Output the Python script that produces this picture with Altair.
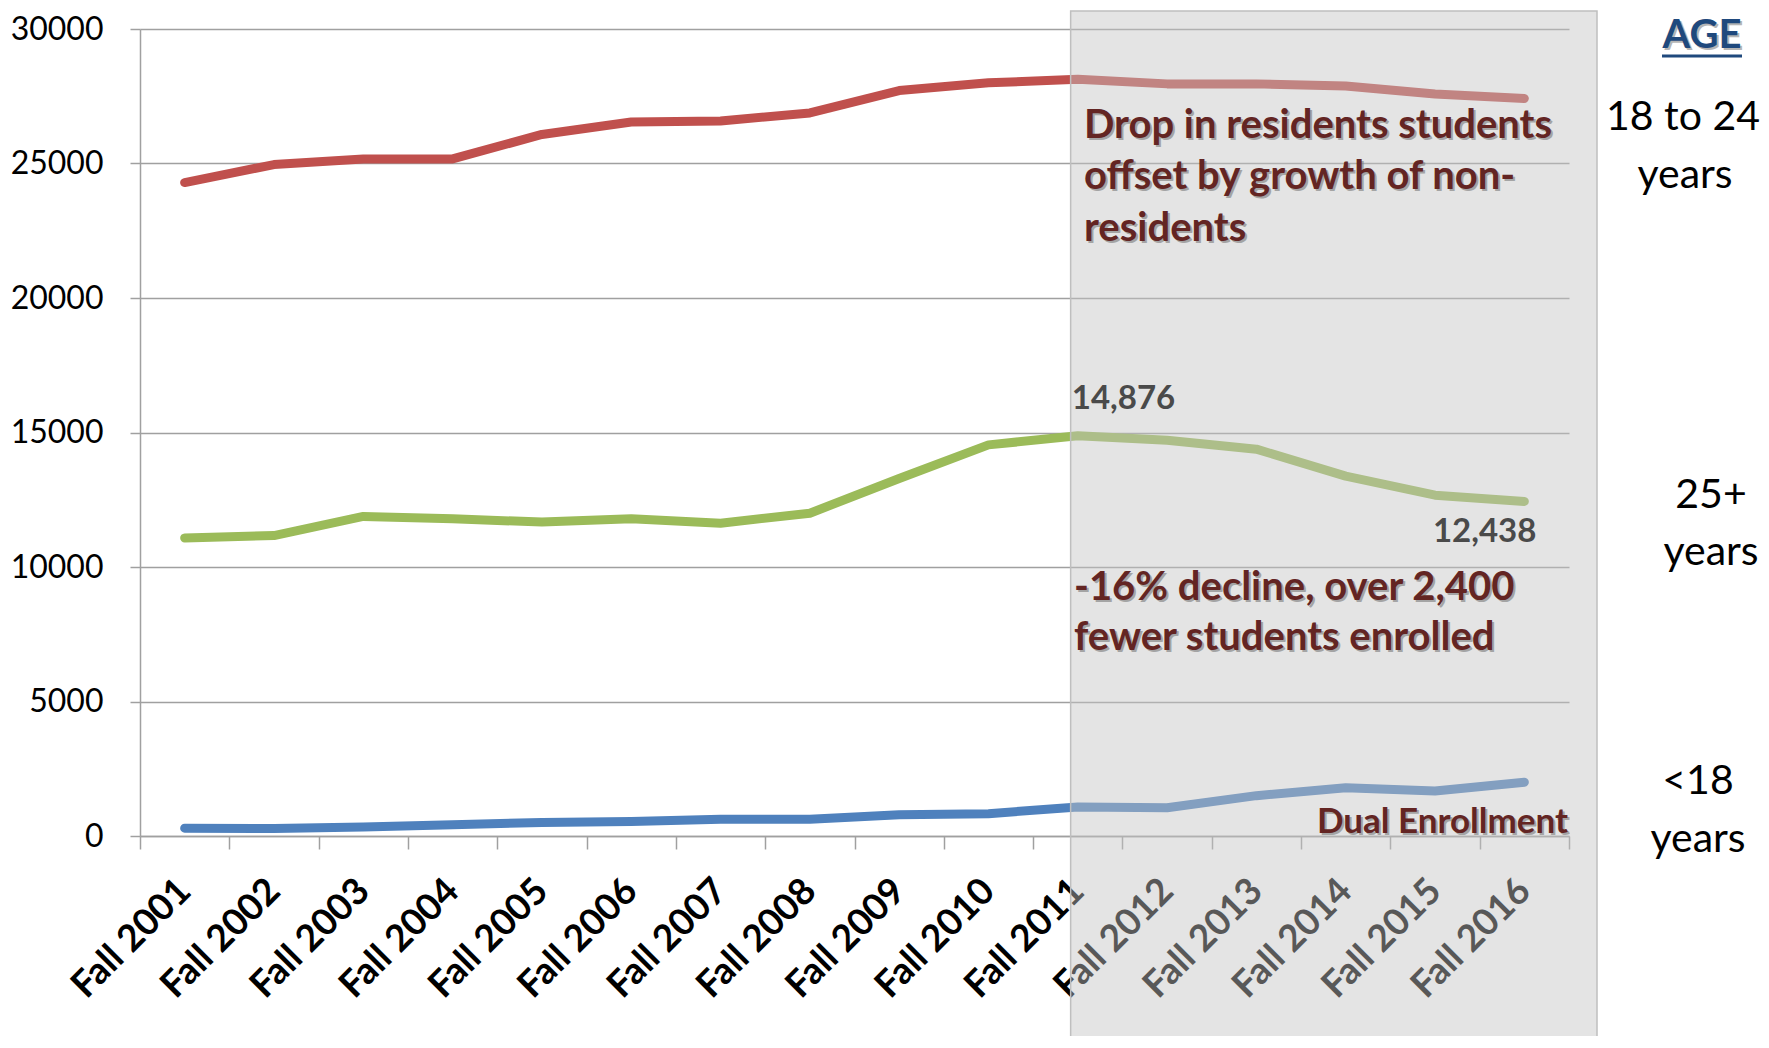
import altair as alt
import pandas as pd

# ---------------- data ----------------
years = ["Fall 2001", "Fall 2002", "Fall 2003", "Fall 2004", "Fall 2005", "Fall 2006",
         "Fall 2007", "Fall 2008", "Fall 2009", "Fall 2010", "Fall 2011", "Fall 2012",
         "Fall 2013", "Fall 2014", "Fall 2015", "Fall 2016"]
age_18_24 = [24290, 24960, 25170, 25170, 26080, 26540, 26580, 26880, 27710, 28000,
             28130, 27960, 27960, 27880, 27580, 27420]
age_25_plus = [11080, 11170, 11880, 11790, 11670, 11790, 11630, 12000, 13290, 14540,
               14876, 14710, 14380, 13380, 12670, 12438]
age_under_18 = [290, 280, 330, 420, 500, 540, 620, 620, 790, 830,
                1080, 1050, 1500, 1790, 1670, 2000]
series_names = ["18 to 24 years", "25+ years", "<18 years"]
series_colors = ["#C0504D", "#9BBB59", "#4F81BD"]
y_ticks = [0, 5000, 10000, 15000, 20000, 25000, 30000]
shade_start = ["Fall 2011"]

rows = []
for name, vals in zip(series_names, [age_18_24, age_25_plus, age_under_18]):
    for yr, v in zip(years, vals):
        rows.append({"year": yr, "value": v, "series": name})
df = pd.DataFrame(rows)

W, H = 1429, 807
TOP = 21
FONT = "Lato"
DARKRED = "#632523"

x_scale = alt.Scale(type="band", domain=years, paddingInner=0, paddingOuter=0)
y_scale = alt.Scale(domain=[0, 30000], nice=False)

x_enc = alt.X(
    "year:N", sort=years, scale=x_scale,
    axis=alt.Axis(title=None, labelAngle=-45, labelAlign="right", labelBaseline="middle",
                  labelFont=FONT, labelFontSize=37, labelFontWeight="bold", labelColor="black",
                  tickBand="extent", tickSize=13, tickColor="#A0A0A0", tickWidth=1.5,
                  domainColor="#A0A0A0", domainWidth=1.5, grid=False, labelPadding=36),
)
y_enc = alt.Y(
    "value:Q", scale=y_scale,
    axis=alt.Axis(title=None, values=y_ticks, format="d", labelFont=FONT, labelFontSize=32,
                  labelColor="black", grid=True, gridColor="#A0A0A0", gridWidth=1.5,
                  tickColor="#A0A0A0", tickSize=10, tickWidth=1.5, domainColor="#A0A0A0",
                  domainWidth=1.5, labelPadding=27),
)

lines = alt.Chart(df).mark_line(strokeWidth=9, strokeCap="round", strokeJoin="round").encode(
    x=x_enc, y=y_enc,
    color=alt.Color("series:N", scale=alt.Scale(domain=series_names, range=series_colors), legend=None),
    detail="series:N",
)

# shaded "projection" overlay (drawn over lines and axis labels)
shade = alt.Chart(pd.DataFrame({"year": shade_start})).mark_rect(
    fill="rgb(195,195,195)", fillOpacity=0.45, stroke="#BFBFBF", strokeWidth=1.5
).encode(
    x=alt.X("year:N", scale=x_scale, bandPosition=0.42),
    x2=alt.value(W + 28),
    y=alt.value(-18),
    y2=alt.value(H + 210),
)

# value labels
val_df = pd.DataFrame({"year": ["Fall 2011", "Fall 2016"],
                       "value": [age_25_plus[10], age_25_plus[15]],
                       "label": ["14,876", "12,438"]})
lab_1 = alt.Chart(val_df.iloc[[0]]).mark_text(
    font=FONT, fontSize=33, fontWeight="bold", color="#4A4A4A", align="left", baseline="middle",
    dx=-6, dy=-37).encode(x=alt.X("year:N", scale=x_scale), y=alt.Y("value:Q", scale=y_scale), text="label:N")
lab_2 = alt.Chart(val_df.iloc[[1]]).mark_text(
    font=FONT, fontSize=33, fontWeight="bold", color="#4A4A4A", align="right", baseline="middle",
    dx=12, dy=31).encode(x=alt.X("year:N", scale=x_scale), y=alt.Y("value:Q", scale=y_scale), text="label:N")

# dark red annotations (pixel positions in plot coordinates)
notes = pd.DataFrame({
    "text": ["Drop in residents students", "offset by growth of non-", "residents",
             "-16% decline, over 2,400", "fewer students enrolled"],
    "px": [944, 944, 944, 934, 934],
    "py": [97, 148, 200, 559, 609],
})
dual = pd.DataFrame({"text": ["Dual Enrollment"], "px": [1428], "py": [793]})


def note_layer(data, size, align, shadow):
    kw = dict(font=FONT, fontSize=size, fontWeight="bold", align=align, baseline="middle")
    if shadow:
        kw.update(color="#7A7A7A", opacity=0.6, dx=2, dy=2)
    else:
        kw.update(color=DARKRED)
    return alt.Chart(data).mark_text(**kw).encode(
        x=alt.X("px:Q", scale=None), y=alt.Y("py:Q", scale=None), text="text:N")


note_layers = [note_layer(notes, 40, "left", True), note_layer(notes, 40, "left", False),
               note_layer(dual, 35, "right", True), note_layer(dual, 35, "right", False)]

# right-side age labels
age_labels = pd.DataFrame({
    "text": ["18 to 24", "years", "25+", "years", "<18", "years"],
    "px": [1543, 1545, 1571, 1571, 1558, 1558],
    "py": [89, 147, 467, 524, 753, 811],
})
age_layer = alt.Chart(age_labels).mark_text(
    font=FONT, fontSize=41, color="black", align="center", baseline="middle"
).encode(x=alt.X("px:Q", scale=None), y=alt.Y("py:Q", scale=None), text="text:N")

age_title = pd.DataFrame({"text": ["AGE"], "px": [1562], "py": [7]})
age_title_shadow = alt.Chart(age_title).mark_text(
    font=FONT, fontSize=40, fontWeight="bold", color="#7A7A7A", opacity=0.55,
    align="center", baseline="middle", dx=2, dy=2
).encode(x=alt.X("px:Q", scale=None), y=alt.Y("py:Q", scale=None), text="text:N")
age_title_text = alt.Chart(age_title).mark_text(
    font=FONT, fontSize=40, fontWeight="bold", color="#1F497D", align="center", baseline="middle"
).encode(x=alt.X("px:Q", scale=None), y=alt.Y("py:Q", scale=None), text="text:N")
underline = alt.Chart(pd.DataFrame({"a": [1522], "b": [1602], "py": [27]})).mark_rule(
    color="#1F497D", strokeWidth=3
).encode(x=alt.X("a:Q", scale=None), x2="b:Q", y=alt.Y("py:Q", scale=None))

chart = alt.layer(
    lines, shade, lab_1, lab_2, *note_layers, age_layer, age_title_shadow, age_title_text, underline
).properties(
    width=W, height=H,
    autosize=alt.AutoSizeParams(type="none"),
    padding={"left": 132, "top": TOP, "right": 192, "bottom": 200},
    background="white",
).configure_view(stroke=None)

chart.save("out.html", embed_options={"renderer": "svg", "actions": False})
